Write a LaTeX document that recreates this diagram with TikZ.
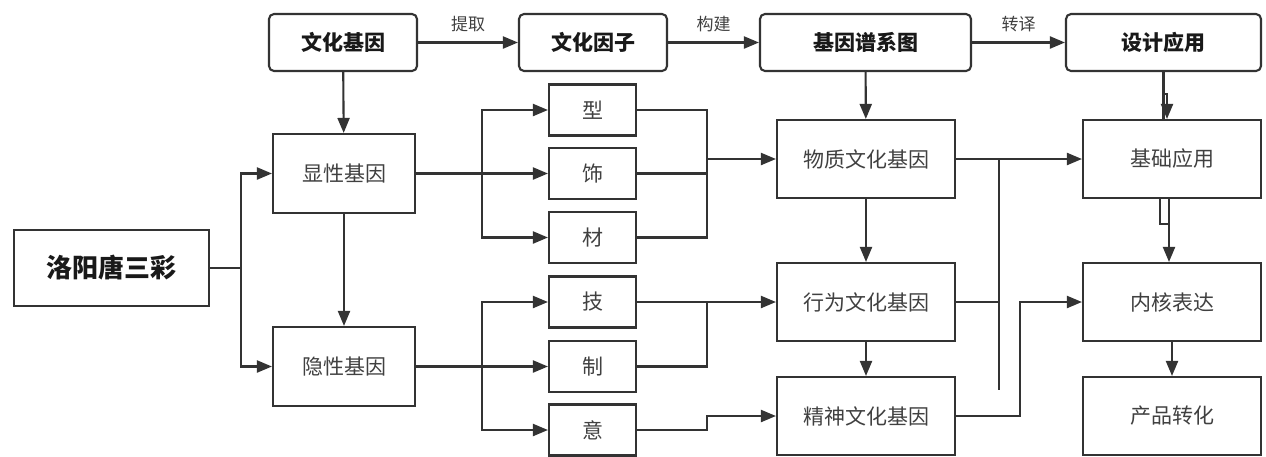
\documentclass[tikz,border=0pt]{standalone}
\usepackage{fontspec}
\setmainfont{Noto Sans CJK SC}
\usetikzlibrary{arrows.meta}

\begin{document}
\begin{tikzpicture}[x=1pt, y=-1pt, line width=2.1pt, color=black!80,
  >={Triangle[length=15pt, width=12pt]},
  head/.style={shape=rectangle, draw, rounded corners=5pt, minimum height=57pt, inner sep=0pt, text=black!90, font=\fontsize{21}{23}\selectfont\bfseries},
  trait/.style={shape=rectangle, draw, minimum width=142pt, minimum height=79pt, inner sep=0pt, text=black!75, font=\fontsize{21}{23}\selectfont},
  factor/.style={shape=rectangle, draw, minimum width=87pt, minimum height=51pt, inner sep=0pt, text=black!75, font=\fontsize{21}{23}\selectfont},
  gene/.style={shape=rectangle, draw, minimum width=178pt, minimum height=78pt, inner sep=0pt, text=black!75, font=\fontsize{21}{23}\selectfont},
  verb/.style={text=black!75, font=\fontsize{17}{19}\selectfont}]
\useasboundingbox (0,0) rectangle (1266,456);
\node at (343, 42.5) [head, minimum width=148pt] (culture) {文化基因};
\node at (593, 42.5) [head, minimum width=148pt] (factor) {文化因子};
\node at (865.5, 42.5) [head, minimum width=211pt] (pedigree) {基因谱系图};
\node at (1163.5, 42.5) [head, minimum width=195pt] (design) {设计应用};
\node at (111.5, 268) [shape=rectangle, draw, minimum width=195pt, minimum height=76pt, text=black!90, font=\fontsize{26}{28}\selectfont\bfseries] (tangsancai) {洛阳唐三彩};
\node at (344, 173.5) [trait] (dominant) {显性基因};
\node at (344, 366.5) [trait] (recessive) {隐性基因};
\node at (592.5, 110) [factor] (xing) {型};
\node at (592.5, 173.5) [factor] (shi) {饰};
\node at (592.5, 237.5) [factor] (cai) {材};
\node at (592.5, 302) [factor] (ji) {技};
\node at (592.5, 366.5) [factor] (zhi) {制};
\node at (592.5, 430) [factor] (yi) {意};
\node at (866, 159) [gene] (material) {物质文化基因};
\node at (866, 302) [gene] (behavior) {行为文化基因};
\node at (866, 416) [gene] (spirit) {精神文化基因};
\node at (1172, 159) [gene] (basic) {基础应用};
\node at (1172, 302) [gene] (core) {内核表达};
\node at (1172, 416) [gene] (product) {产品转化};
\coordinate (split) at (241, 268);
\coordinate (upper) at (482, 173.5);
\coordinate (lower) at (482, 366.5);
\coordinate (bus) at (999, 159);
\draw [->] (culture) to node [verb, above=6pt] (extract) {提取} (factor);
\draw [->] (factor) to node [verb, above=6pt] (build) {构建} (pedigree);
\draw [->] (pedigree) to node [verb, above=6pt] (translate) {转译} (design);
\draw [->] (culture) to (dominant);
\draw [->] (dominant) to (recessive);
\draw (tangsancai) to (split);
\draw [->] (split) |- (dominant);
\draw [->] (split) |- (recessive);
\draw [->] (dominant) to (shi);
\draw [->] (upper) |- (xing);
\draw [->] (upper) |- (cai);
\draw [->] (recessive) to (zhi);
\draw [->] (lower) |- (ji);
\draw [->] (lower) |- (yi);
\draw (xing) -| (707, 237.5) -- (cai);
\draw (shi) -- (707, 173.5);
\draw [->] (707, 159) -- (material);
\draw (ji) -| (707, 366.5) -- (zhi);
\draw [->] (707, 302) -- (behavior);
\draw [->] (yi) -| (707, 416) -- (spirit);
\draw [->] (pedigree) to (material);
\draw [->] (material) to (behavior);
\draw [->] (behavior) to (spirit);
\draw [->] (material) to (basic);
\draw (bus) -- (999, 390);
\draw (behavior) -- (999, 302);
\draw [->] (spirit) -| (1020, 302) -- (core);
\draw (design.south) -- (design.south |- basic.north);
\draw [->] (design.south) ++(0, 22) -| ([xshift=-5pt]basic.north);
\draw ([xshift=-12pt]basic.south) -- ++(0, 25) -| ([xshift=-3pt]basic.south);
\draw [->] ([xshift=-3pt]basic.south) -- ([xshift=-3pt]core.north);
\draw [->] (core) to (product);
\end{tikzpicture}
\end{document}
